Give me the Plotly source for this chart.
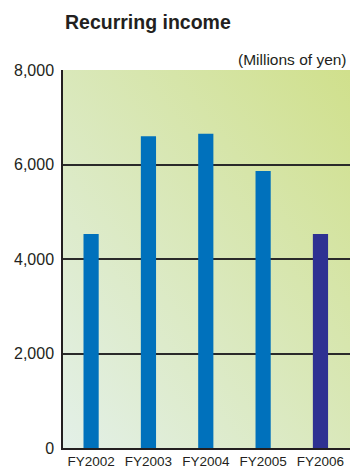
import plotly.graph_objects as go

# Recurring income by fiscal year (millions of yen)
years = ["FY2002", "FY2003", "FY2004", "FY2005", "FY2006"]
income = [4530, 6600, 6650, 5860, 4530]
bar_colors = ["#0071bc", "#0071bc", "#0071bc", "#0071bc", "#2e3192"]
y_ticks = [0, 2000, 4000, 6000, 8000]
y_tick_text = ["0", "2,000", "4,000", "6,000", "8,000"]

# Diagonal gradient used as the plot-area backdrop
gradient_svg = (
    "data:image/svg+xml;utf8,"
    "<svg xmlns='http://www.w3.org/2000/svg' width='100' height='100' preserveAspectRatio='none'>"
    "<defs><linearGradient id='g' x1='0' y1='1' x2='1' y2='0'>"
    "<stop offset='0' stop-color='%23e3f0e8'/>"
    "<stop offset='1' stop-color='%23d0e08c'/>"
    "</linearGradient></defs>"
    "<rect width='100' height='100' fill='url(%23g)'/></svg>"
)

fig = go.Figure(
    go.Bar(
        x=list(range(len(years))),
        y=income,
        marker=dict(color=bar_colors, line=dict(width=0)),
        width=0.265,
        hoverinfo="skip",
    )
)

font_family = "Liberation Sans, Arial, Helvetica, sans-serif"

fig.update_layout(
    width=350,
    height=468,
    margin=dict(l=63, r=0, t=70, b=20),
    paper_bgcolor="white",
    plot_bgcolor="rgba(0,0,0,0)",
    showlegend=False,
    font=dict(family=font_family, color="#231f20"),
    images=[
        dict(
            source=gradient_svg,
            xref="paper", yref="paper",
            x=0, y=1, sizex=1, sizey=1,
            xanchor="left", yanchor="top",
            sizing="stretch", layer="below",
        )
    ],
    annotations=[
        dict(
            text="<b>Recurring income</b>",
            xref="paper", yref="paper",
            x=0.0, y=1.128, xanchor="left", yanchor="middle",
            showarrow=False,
            font=dict(size=19.5, family=font_family, color="#231f20"),
        ),
        dict(
            text="(Millions of yen)",
            xref="paper", yref="paper",
            x=0.995, y=1.027, xanchor="right", yanchor="middle",
            showarrow=False,
            font=dict(size=15.5, family=font_family, color="#231f20"),
        ),
    ],
)

fig.update_xaxes(
    range=[-0.49, 4.515],
    tickmode="array",
    tickvals=list(range(len(years))),
    ticktext=years,
    tickfont=dict(size=13.5, family=font_family, color="#231f20"),
    showgrid=False,
    zeroline=False,
    showline=True,
    linecolor="#231f20",
    linewidth=2,
    ticks="",
    fixedrange=True,
)

fig.update_yaxes(
    range=[0, 8000],
    tickmode="array",
    tickvals=y_ticks,
    ticktext=y_tick_text,
    tickfont=dict(size=16, family=font_family, color="#231f20"),
    showgrid=True,
    gridcolor="#2a2a2a",
    gridwidth=1.5,
    zeroline=False,
    showline=True,
    linecolor="#231f20",
    linewidth=1.5,
    ticks="",
    ticklabelstandoff=4,
    fixedrange=True,
)

fig.write_html("out.html")
